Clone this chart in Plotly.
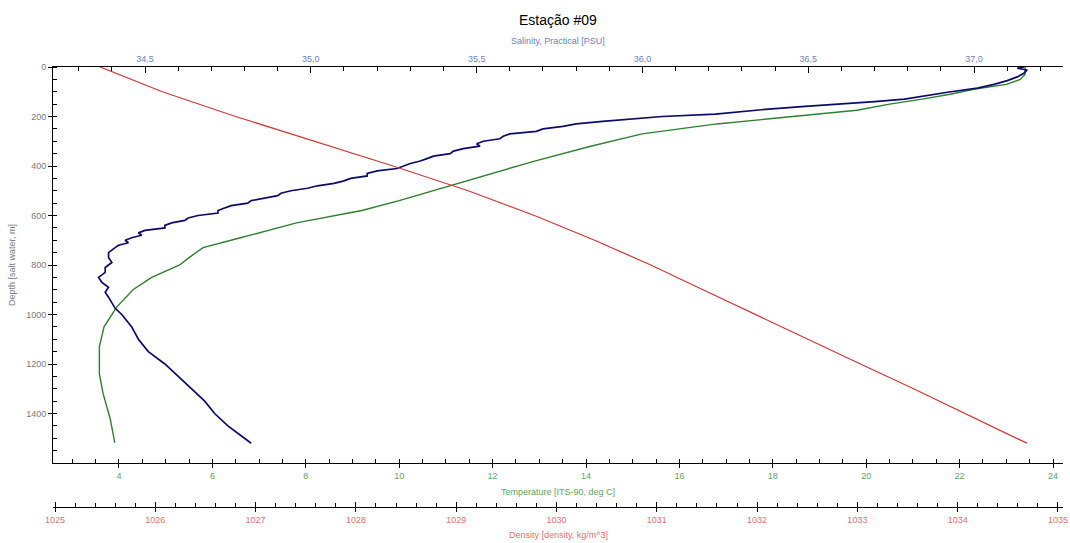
import plotly.graph_objects as go

# ---------------- data ----------------
sal_depth = [0, 5, 12, 25, 40, 55, 70, 85, 100, 115, 130, 140, 150, 160, 170, 180, 190, 200, 210, 220, 230,
             240, 250, 260, 270, 280, 290, 300, 310, 320, 330, 340, 350, 360, 370, 380, 390, 400, 410, 420,
             430, 440, 450, 460, 470, 480, 490, 500, 510, 520, 530, 540, 550, 560, 570, 580, 590, 600, 610,
             620, 630, 640, 650, 660, 670, 680, 690, 700, 710, 720, 730, 750, 770, 790, 810, 830, 850, 860,
             870, 890, 910, 930, 950, 975, 1000, 1050, 1100, 1150, 1200, 1250, 1300, 1350, 1400, 1450, 1500,
             1520]
salinity = [37.15, 37.13, 37.16, 37.15, 37.13, 37.10, 37.06, 37.01, 36.93, 36.86, 36.79, 36.70, 36.58, 36.48,
            36.38, 36.30, 36.22, 36.06, 35.96, 35.88, 35.80, 35.76, 35.70, 35.68, 35.60, 35.58, 35.57, 35.52,
            35.50, 35.51, 35.46, 35.43, 35.42, 35.37, 35.35, 35.33, 35.30, 35.28, 35.26, 35.20, 35.17, 35.17,
            35.12, 35.10, 35.07, 35.02, 34.99, 34.94, 34.91, 34.90, 34.86, 34.82, 34.81, 34.76, 34.74, 34.72,
            34.72, 34.66, 34.63, 34.62, 34.58, 34.56, 34.56, 34.50, 34.48, 34.49, 34.46, 34.44, 34.45, 34.42,
            34.41, 34.39, 34.39, 34.40, 34.38, 34.38, 34.36, 34.365, 34.37, 34.39, 34.38, 34.39, 34.40, 34.41,
            34.43, 34.46, 34.48, 34.51, 34.56, 34.60, 34.64, 34.68, 34.71, 34.75, 34.80, 34.82]

temp_depth = [0, 30, 50, 70, 90, 110, 130, 150, 175, 200, 230, 270, 320, 380, 440, 490, 540, 580, 630, 690,
              730, 770, 800, 850, 900, 970, 1050, 1130, 1240, 1320, 1420, 1518]
temperature = [23.4, 23.4, 23.3, 23.0, 22.3, 21.8, 21.2, 20.5, 19.8, 18.5, 16.8, 15.2, 14.1, 12.9, 11.8, 10.9,
               10.0, 9.2, 7.8, 6.6, 5.8, 5.5, 5.3, 4.7, 4.3, 3.95, 3.68, 3.58, 3.58, 3.66, 3.81, 3.91]

dens_depth = [0, 100, 200, 300, 400, 500, 600, 700, 800, 900, 1000, 1100, 1200, 1300, 1400, 1520]
density = [1025.45, 1026.07, 1026.80, 1027.58, 1028.37, 1029.12, 1029.78, 1030.38, 1030.94, 1031.46,
           1031.98, 1032.51, 1033.03, 1033.56, 1034.08, 1034.69]

title_text = "Estação #09"
sal_title = "Salinity, Practical [PSU]"
temp_title = "Temperature [ITS-90, deg C]"
dens_title = "Density [density, kg/m^3]"
depth_title = "Depth [salt water, m]"

sal_ticks = [34.5, 35.0, 35.5, 36.0, 36.5, 37.0]
sal_ticklabels = ["34,5", "35,0", "35,5", "36,0", "36,5", "37,0"]
temp_ticks = [4, 6, 8, 10, 12, 14, 16, 18, 20, 22, 24]
dens_ticks = [1025, 1026, 1027, 1028, 1029, 1030, 1031, 1032, 1033, 1034, 1035]
depth_ticks = [0, 200, 400, 600, 800, 1000, 1200, 1400]

# ---------------- style ----------------
FONT = "Arial, Liberation Sans, sans-serif"
C_SAL = "#0b0b6b"
C_TEMP = "#2f7f2f"
C_DENS = "#d23a3a"
C_SAL_TXT = "#6f7fb5"
C_TEMP_TXT = "#5ea55e"
C_DENS_TXT = "#e07272"
C_GREY = "#7a7a7a"

TEMP_RANGE = [2.587, 24.214]
SAL_RANGE = [34.2226, 37.268]
DENS_RANGE = [1024.98, 1035.05]
DEPTH_RANGE = [1600, 0]

fig = go.Figure()
fig.add_trace(go.Scatter(x=temperature, y=temp_depth, mode="lines", xaxis="x", yaxis="y",
                         line=dict(color=C_TEMP, width=1.4), showlegend=False))
fig.add_trace(go.Scatter(x=salinity, y=sal_depth, mode="lines", xaxis="x2", yaxis="y",
                         line=dict(color=C_SAL, width=1.7), showlegend=False))
fig.add_trace(go.Scatter(x=density, y=dens_depth, mode="lines", xaxis="x3", yaxis="y",
                         line=dict(color=C_DENS, width=1.3), showlegend=False))

tickfont = lambda c: dict(family=FONT, size=9, color=c)

fig.update_layout(
    width=1070, height=543,
    margin=dict(l=53, r=7, t=67, b=36, autoexpand=False),
    paper_bgcolor="white", plot_bgcolor="white",
    showlegend=False,
    yaxis=dict(domain=[0.1, 1], range=DEPTH_RANGE, tickvals=depth_ticks, ticks="outside", ticklen=4,
               tickcolor="black", showline=True, linecolor="black", linewidth=1, showgrid=False,
               zeroline=False, tickfont=tickfont(C_GREY), automargin=False,
               minor=dict(dtick=50, ticks="inside", ticklen=4, tickcolor="black", showgrid=False)),
    yaxis2=dict(overlaying="y", range=DEPTH_RANGE, tickvals=depth_ticks, ticks="inside", ticklen=4,
                tickcolor="black", showticklabels=False, showline=False, showgrid=False, zeroline=False,
                anchor="x", side="left", automargin=False),
    xaxis=dict(range=TEMP_RANGE, tickvals=temp_ticks, ticks="outside", ticklen=4, tickcolor="black",
               showline=True, linecolor="black", linewidth=1, showgrid=False, zeroline=False,
               anchor="y", tickfont=tickfont(C_TEMP_TXT), automargin=False,
               minor=dict(dtick=0.5, tick0=0, ticks="inside", ticklen=4, tickcolor="black", showgrid=False)),
    xaxis4=dict(overlaying="x", range=TEMP_RANGE, tickvals=temp_ticks, ticks="inside", ticklen=4,
                tickcolor="black", showticklabels=False, showline=False, showgrid=False, zeroline=False,
                anchor="y", side="bottom", automargin=False),
    xaxis2=dict(overlaying="x", side="top", anchor="y", range=SAL_RANGE, tickvals=sal_ticks,
                ticktext=sal_ticklabels, ticks="inside", ticklen=6, tickcolor="black", showline=True,
                linecolor="black", linewidth=1, showgrid=False, zeroline=False, tickfont=tickfont(C_SAL_TXT),
                automargin=False,
                minor=dict(dtick=0.1, tick0=0, ticks="inside", ticklen=4, tickcolor="black", showgrid=False)),
    xaxis3=dict(overlaying="x", anchor="free", position=0, side="bottom", range=DENS_RANGE,
                tickvals=dens_ticks, ticks="outside", ticklen=4, tickcolor="black", showline=True,
                linecolor="black", linewidth=1, showgrid=False, zeroline=False, tickfont=tickfont(C_DENS_TXT),
                automargin=False,
                minor=dict(dtick=0.2, tick0=0, ticks="inside", ticklen=4, tickcolor="black", showgrid=False)),
    xaxis5=dict(overlaying="x", anchor="free", position=0, side="bottom", range=DENS_RANGE,
                tickvals=dens_ticks, ticks="inside", ticklen=5, tickcolor="black", showticklabels=False,
                showline=False, showgrid=False, zeroline=False, automargin=False),
)

fig.add_trace(go.Scatter(x=[None], y=[None], xaxis="x4", yaxis="y", showlegend=False, hoverinfo="skip"))
fig.add_trace(go.Scatter(x=[None], y=[None], xaxis="x5", yaxis="y", showlegend=False, hoverinfo="skip"))
fig.add_trace(go.Scatter(x=[None], y=[None], xaxis="x", yaxis="y2", showlegend=False, hoverinfo="skip"))

ann = [
    dict(text=title_text, x=0.5, y=20, font=dict(family=FONT, size=14, color="black")),
    dict(text=sal_title, x=0.5, y=41, font=dict(family=FONT, size=9, color=C_SAL_TXT)),
    dict(text=temp_title, x=0.5, y=492, font=dict(family=FONT, size=9, color=C_TEMP_TXT)),
    dict(text=dens_title, x=0.5, y=535, font=dict(family=FONT, size=9, color=C_DENS_TXT)),
]
top, bottom = 67, 507
for a in ann:
    py = a.pop("y")
    a.update(xref="paper", yref="paper", y=(bottom - py) / (bottom - top), showarrow=False,
             xanchor="center", yanchor="middle")
    fig.add_annotation(**a)
fig.add_annotation(text=depth_title, xref="paper", yref="paper", x=-(53 - 12) / 1010,
                   y=(bottom - 265) / (bottom - top), textangle=-90, showarrow=False,
                   xanchor="center", yanchor="middle", font=dict(family=FONT, size=9, color=C_GREY))

fig.write_html("out.html", config={"displayModeBar": False},
               post_script="document.body.style.margin='0';document.body.style.overflow='hidden';")
